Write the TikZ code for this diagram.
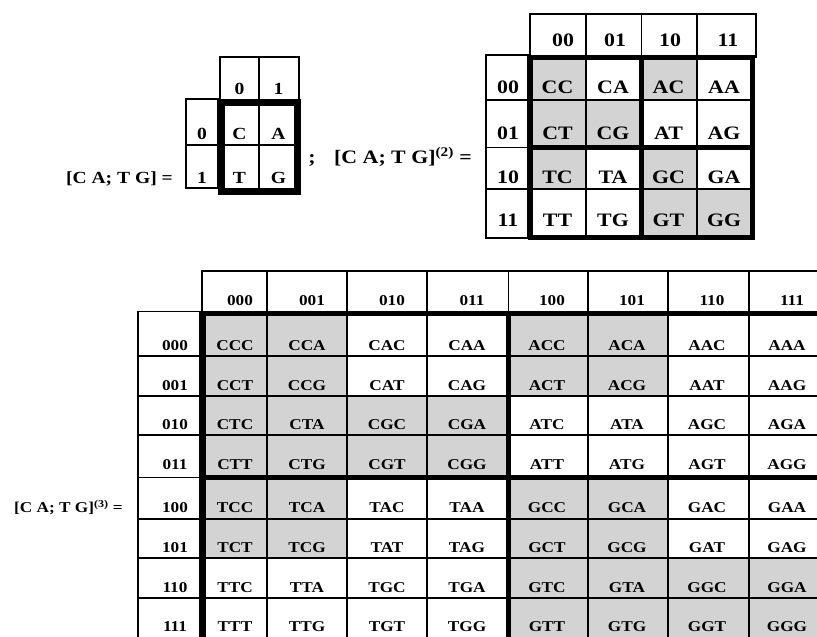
\documentclass[tikz,border=0pt]{standalone}
\usepackage{fontspec}
\setmainfont[FakeStretch=1.15]{Liberation Serif}
\definecolor{cellgray}{RGB}{211,211,211}
\begin{document}
\begin{tikzpicture}[x=1pt, y=-1pt, line join=miter,
	gridline/.style={line width=1.6pt},
	border/.style={line width=5.5pt},
	sone/.style={anchor=base, inner sep=0pt, font=\bfseries\fontsize{17}{17}\selectfont},
	stwo/.style={anchor=base, inner sep=0pt, font=\bfseries\fontsize{19}{19}\selectfont},
	sthree/.style={anchor=base, inner sep=0pt, font=\bfseries\fontsize{15}{15}\selectfont}]
	\useasboundingbox (0,0) rectangle (817,637);
	\clip (0,0) rectangle (817,637);
	% first matrix
	\draw[gridline] (220,57) rectangle (299,102) (259,57)--(259,191);
	\draw[gridline] (186,99) rectangle (218,188) (186,145)--(297,145);
	\draw[border, line width=7pt] (221,102.5) rectangle (297.5,191.5);
	\foreach \t/\x/\y [count=\k] in {0/239.5/94, 1/278.5/94, 0/202/139, 1/202/183, C/239.5/139, A/278.5/139, T/239.5/183, G/278.5/183}
		\node[sone] (m1-\k) at (\x,\y) {\t};
	\node[sone, anchor=base east] (lab1) at (173,183) {[C A; T G] =};
	\node[stwo] (semi) at (312,163) {;};
	\node[stwo, anchor=base east] (lab2) at (472,163) {[C A; T G]\textsuperscript{(2)} =};
	% second matrix
	\foreach \xa/\ya/\xb/\yb in {530.5/57.5/586/100, 641.5/57.5/697/100, 530.5/100/586/147.5, 586/100/641.5/147.5, 530.5/147.5/586/189, 641.5/147.5/697/189, 641.5/189/697/237.5, 697/189/752.5/237.5}
		\fill[cellgray] (\xa,\ya) rectangle (\xb,\yb);
	\draw[gridline] (530,14) rectangle (756,57.5) (586,14)--(586,237.5) (641.5,14)--(641.5,57.5) (697,14)--(697,237.5);
	\draw[gridline] (486,55) rectangle (528,238) (486,100)--(752.5,100) (486,147.5)--(528,147.5) (486,189)--(752.5,189);
	\draw[border] (530.5,57.5) rectangle (752.5,237.5) (641.5,57.5)--(641.5,237.5) (530.5,147.5)--(752.5,147.5);
	\foreach \t/\x [count=\k] in {00/563, 01/615, 10/670, 11/728}
		\node[stwo] (h2-\k) at (\x,46.5) {\t};
	\foreach \lab/\y/\row in {00/93.5/{CC,CA,AC,AA}, 01/139.5/{CT,CG,AT,AG}, 10/183.5/{TC,TA,GC,GA}, 11/226.5/{TT,TG,GT,GG}}{
		\node[stwo] (r2-\lab) at (508,\y) {\lab};
		\foreach \t [count=\k] in \row
			\node[stwo] (d2-\lab-\k) at ({502+55.5*\k},\y) {\t};
	}
	% third matrix
	\foreach \xa/\ya/\xb/\yb in {203/313.5/347/396, 508.5/313.5/668/396, 203/396/508.5/477.5, 203/477.5/347/558, 508.5/477.5/668/558, 508.5/558/830/640}
		\fill[cellgray] (\xa,\ya) rectangle (\xb,\yb);
	\draw[gridline] (202,271) rectangle (830,313.5) (508.5,271)--(508.5,313.5);
	\foreach \x in {267,347,427,588,668,749}
		\draw[gridline] (\x,271)--(\x,640);
	\draw[gridline] (138,311.5) rectangle (200,640);
	\foreach \y in {356,396,435,477.5,519,558,598}
		\draw[gridline] (138,\y)--(830,\y);
	\draw[border] (203,640)--(203,313.5)--(830,313.5) (508.5,313.5)--(508.5,640) (203,477.5)--(830,477.5);
	\foreach \t [count=\k] in {000,001,010,011,100,101,110,111}
		\node[sthree] (h3-\k) at ({152+80*\k+8*(\k==1)},305.5) {\t};
	\foreach \lab/\y/\row in {000/350.5/{CCC,CCA,CAC,CAA,ACC,ACA,AAC,AAA},
		001/390/{CCT,CCG,CAT,CAG,ACT,ACG,AAT,AAG},
		010/429/{CTC,CTA,CGC,CGA,ATC,ATA,AGC,AGA},
		011/469/{CTT,CTG,CGT,CGG,ATT,ATG,AGT,AGG},
		100/512.5/{TCC,TCA,TAC,TAA,GCC,GCA,GAC,GAA},
		101/552/{TCT,TCG,TAT,TAG,GCT,GCG,GAT,GAG},
		110/592/{TTC,TTA,TGC,TGA,GTC,GTA,GGC,GGA},
		111/631.5/{TTT,TTG,TGT,TGG,GTT,GTG,GGT,GGG}}{
		\node[sthree] (r3-\lab) at (175,\y) {\lab};
		\foreach \t [count=\k] in \row
			\node[sthree] (d3-\lab-\k) at ({147+80*\k+8*(\k==1)},\y) {\t};
	}
	\node[sthree, anchor=base east] (lab3) at (123,512.5) {[C A; T G]\textsuperscript{(3)} =};
\end{tikzpicture}
\end{document}
